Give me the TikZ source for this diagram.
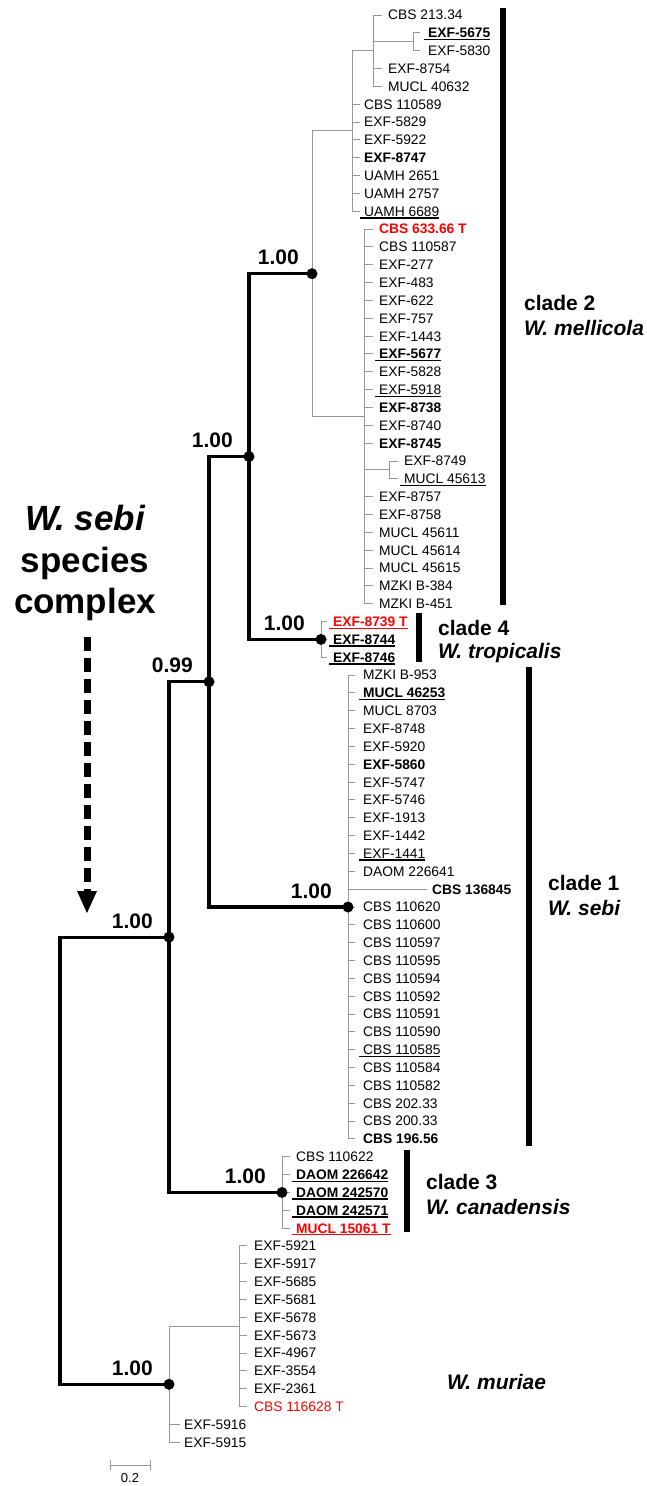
\documentclass[tikz,border=0pt]{standalone}
\usepackage{fontspec}
\setmainfont{Liberation Sans}
\usetikzlibrary{arrows.meta}
\definecolor{tred}{RGB}{255,0,0}
\definecolor{tgray}{RGB}{150,150,150}
\newsavebox\ulbox
\newcommand\ulx[1]{\sbox\ulbox{#1}\kern-4pt\rlap{\rule[-2.4pt]{\dimexpr\wd\ulbox+4pt\relax}{1.3pt}}\kern4pt\usebox\ulbox}
\pgfmathdeclarefunction{ry}{1}{\pgfmathparse{15+(#1-1)*17.84}}
\begin{document}
\begin{tikzpicture}[x=1pt,y=-1pt,
  thinl/.style={draw=tgray,line width=1pt},
  thk/.style={draw=black,line width=3.2pt,line join=miter},
  leaf/.style={font=\fontsize{13.8}{16}\selectfont,anchor=base west,inner sep=0pt,text=black},
  sup/.style={font=\fontsize{21}{24}\selectfont\bfseries,anchor=base east,inner sep=0pt},
  cl/.style={font=\fontsize{21}{25}\selectfont\bfseries,anchor=base west,inner sep=0pt},
  bar/.style={draw=black,line width=6pt},
  big/.style={font=\fontsize{35}{42}\selectfont\bfseries,anchor=base,inner sep=0pt}]
\useasboundingbox (0,0) rectangle (647,1486);
\fill[white] (0,0) rectangle (647,1486);

% ---------- clade 2 ----------
\foreach \r/\t in {1/{CBS 213.34},4/{EXF-8754},5/{MUCL 40632}}{
  \draw[thinl] (373,{ry(\r)}) -- (382,{ry(\r)});
  \node[leaf] (l\r) at (388,{ry(\r)+4.9}) {\t};}
\foreach \r/\t in {2/{\ulx{\bfseries EXF-5675}},3/{EXF-5830}}{
  \draw[thinl] (413,{ry(\r)}) -- (420,{ry(\r)});
  \node[leaf] (l\r) at (428,{ry(\r)+4.9}) {\t};}
\draw[thinl] (413,{ry(2)}) -- (413,{ry(3)});
\draw[thinl] (373,41.76) -- (413,41.76);
\draw[thinl] (373,{ry(1)}) -- (373,{ry(5)});
\draw[thinl] (352,50.68) -- (373,50.68);
\foreach \r/\t in {6/{CBS 110589},7/{EXF-5829},8/{EXF-5922},9/{\bfseries EXF-8747},10/{UAMH 2651},11/{UAMH 2757},12/{\ulx{UAMH 6689}}}{
  \draw[thinl] (352,{ry(\r)}) -- (360,{ry(\r)});
  \node[leaf] (l\r) at (364,{ry(\r)+4.9}) {\t};}
\draw[thinl] (352,50.68) -- (352,{ry(12)});
\draw[thinl] (312,130.96) -- (352,130.96);
\foreach \r/\t in {13/{\color{tred}\bfseries CBS 633.66 T},14/{CBS 110587},15/{EXF-277},16/{EXF-483},17/{EXF-622},18/{EXF-757},19/{EXF-1443},20/{\ulx{\bfseries EXF-5677}},21/{EXF-5828},22/{\ulx{EXF-5918}},23/{\bfseries EXF-8738},24/{EXF-8740},25/{\bfseries EXF-8745},28/{EXF-8757},29/{EXF-8758},30/{MUCL 45611},31/{MUCL 45614},32/{MUCL 45615},33/{MZKI B-384},34/{MZKI B-451}}{
  \draw[thinl] (364,{ry(\r)}) -- (373,{ry(\r)});
  \node[leaf] (l\r) at (379,{ry(\r)+4.9}) {\t};}
\foreach \r/\t in {26/{EXF-8749},27/{\ulx{MUCL 45613}}}{
  \draw[thinl] (389,{ry(\r)}) -- (398,{ry(\r)});
  \node[leaf] (l\r) at (404,{ry(\r)+4.9}) {\t};}
\draw[thinl] (389,{ry(26)}) -- (389,{ry(27)});
\draw[thinl] (364,469.92) -- (389,469.92);
\draw[thinl] (364,{ry(13)}) -- (364,{ry(34)});
\draw[thinl] (312,416.4) -- (364,416.4);
\draw[thinl] (312,130.96) -- (312,416.4);

% ---------- clade 4 ----------
\foreach \r/\t in {35/{\color{tred}\ulx{\bfseries EXF-8739 T}},36/{\ulx{\bfseries EXF-8744}},37/{\ulx{\bfseries EXF-8746}}}{
  \draw[thinl] (321,{ry(\r)}) -- (327,{ry(\r)});
  \node[leaf] (l\r) at (333,{ry(\r)+4.9}) {\t};}
\draw[thinl] (321,{ry(35)}) -- (321,{ry(37)});

% ---------- clade 1 ----------
\foreach \r/\t in {38/{MZKI B-953},39/{\ulx{\bfseries MUCL 46253}},40/{MUCL 8703},41/{EXF-8748},42/{EXF-5920},43/{\bfseries EXF-5860},44/{EXF-5747},45/{EXF-5746},46/{EXF-1913},47/{EXF-1442},48/{\ulx{EXF-1441}},49/{DAOM 226641},51/{CBS 110620},52/{CBS 110600},53/{CBS 110597},54/{CBS 110595},55/{CBS 110594},56/{CBS 110592},57/{CBS 110591},58/{CBS 110590},59/{\ulx{CBS 110585}},60/{CBS 110584},61/{CBS 110582},62/{CBS 202.33},63/{CBS 200.33},64/{\bfseries CBS 196.56}}{
  \draw[thinl] (348,{ry(\r)}) -- (355,{ry(\r)});
  \node[leaf] (l\r) at (363,{ry(\r)+4.9}) {\t};}
\draw[thinl] (348,{ry(50)}) -- (427,{ry(50)});
\node[leaf] (l50) at (432,{ry(50)+4.9}) {\bfseries CBS 136845};
\draw[thinl] (348,{ry(38)}) -- (348,{ry(64)});

% ---------- clade 3 ----------
\foreach \r/\t in {65/{CBS 110622},66/{\ulx{\bfseries DAOM 226642}},67/{\ulx{\bfseries DAOM 242570}},68/{\ulx{\bfseries DAOM 242571}},69/{\color{tred}\ulx{\bfseries MUCL 15061 T}}}{
  \draw[thinl] (282,{ry(\r)}) -- (290,{ry(\r)});
  \node[leaf] (l\r) at (296,{ry(\r)+4.9}) {\t};}
\draw[thinl] (282,{ry(65)}) -- (282,{ry(69)});

% ---------- W. muriae ----------
\foreach \r/\t in {70/{EXF-5921},71/{EXF-5917},72/{EXF-5685},73/{EXF-5681},74/{EXF-5678},75/{EXF-5673},76/{EXF-4967},77/{EXF-3554},78/{EXF-2361},79/{\color{tred}CBS 116628 T}}{
  \draw[thinl] (239,{ry(\r)}) -- (247,{ry(\r)});
  \node[leaf] (l\r) at (254,{ry(\r)+4.9}) {\t};}
\draw[thinl] (239,{ry(70)}) -- (239,{ry(79)});
\foreach \r/\t in {80/{EXF-5916},81/{EXF-5915}}{
  \draw[thinl] (169,{ry(\r)}) -- (180,{ry(\r)});
  \node[leaf] (l\r) at (184,{ry(\r)+4.9}) {\t};}
\draw[thinl] (169,1326.44) -- (239,1326.44);
\draw[thinl] (169,1326.44) -- (169,{ry(81)});

% ---------- backbone ----------
\coordinate (n2) at (312,273.68);
\coordinate (n4) at (321,639.4);
\coordinate (n24) at (249,456.54);
\coordinate (n1) at (348,907);
\coordinate (n099) at (209,681.77);
\coordinate (n3) at (282,1192.44);
\coordinate (nA) at (169,937.1);
\coordinate (nM) at (169,1384.3);
\coordinate (root) at (60,1160.7);
\draw[thk] (n24) |- (n2);
\draw[thk] (n24) |- (n4);
\draw[thk] (n099) |- (n24);
\draw[thk] (n099) |- (n1);
\draw[thk] (nA) |- (n099);
\draw[thk] (nA) |- (n3);
\draw[thk] (root) |- (nA);
\draw[thk] (root) |- (nM);
\foreach \n in {n2,n4,n24,n1,n099,n3,nA,nM}{\fill (\n) circle (5.5);}

\node[sup] (s2) at ([shift={(-13,-9)}]n2) {1.00};
\node[sup] (s4) at ([shift={(-16,-9)}]n4) {1.00};
\node[sup] (s24) at ([shift={(-16,-9)}]n24) {1.00};
\node[sup] (s1) at ([shift={(-16,-9)}]n1) {1.00};
\node[sup] (s099) at ([shift={(-16,-9)}]n099) {0.99};
\node[sup] (s3) at ([shift={(-16,-9)}]n3) {1.00};
\node[sup] (sA) at ([shift={(-16,-9)}]nA) {1.00};
\node[sup] (sM) at ([shift={(-16,-9)}]nM) {1.00};

% ---------- clade bars and names ----------
\draw[bar] (503,8) -- (503,605);
\draw[bar] (419,613) -- (419,662);
\draw[bar] (529,667) -- (529,1146);
\draw[bar] (407,1150) -- (407,1232);
\node[cl] (c2a) at (524,310.4) {clade 2};
\node[cl] (c2b) at (524,335.4) {\itshape W. mellicola};
\node[cl] (c4a) at (438,635.4) {clade 4};
\node[cl] (c4b) at (438,658.4) {\itshape W. tropicalis};
\node[cl] (c1a) at (548,890.4) {clade 1};
\node[cl] (c1b) at (548,915.4) {\itshape W. sebi};
\node[cl] (c3a) at (426,1189.4) {clade 3};
\node[cl] (c3b) at (426,1214.4) {\itshape W. canadensis};
\node[cl] (cM) at (447,1389.4) {\itshape W. muriae};

% ---------- species complex label ----------
\node[big] (t1) at (85,530) {\itshape W. sebi};
\node[big] (t2) at (85,572) {species};
\node[big] (t3) at (85,613) {complex};
\coordinate (aS) at (87,637);
\coordinate (aE) at (87,891);
\draw[line width=7pt,dash pattern=on 14pt off 7pt] (aS) -- (aE);
\fill (77,891) -- (97,891) -- (87,913) -- cycle;

% ---------- scale bar ----------
\coordinate (sb1) at (110,1465);
\coordinate (sb2) at (150,1465);
\draw[thinl] (sb1) -- (sb2);
\draw[thinl] (110,1460) -- (110,1470);
\draw[thinl] (150,1460) -- (150,1470);
\node[font=\fontsize{13}{15}\selectfont,inner sep=0pt] (sbl) at (130,1478) {0.2};
\end{tikzpicture}
\end{document}
